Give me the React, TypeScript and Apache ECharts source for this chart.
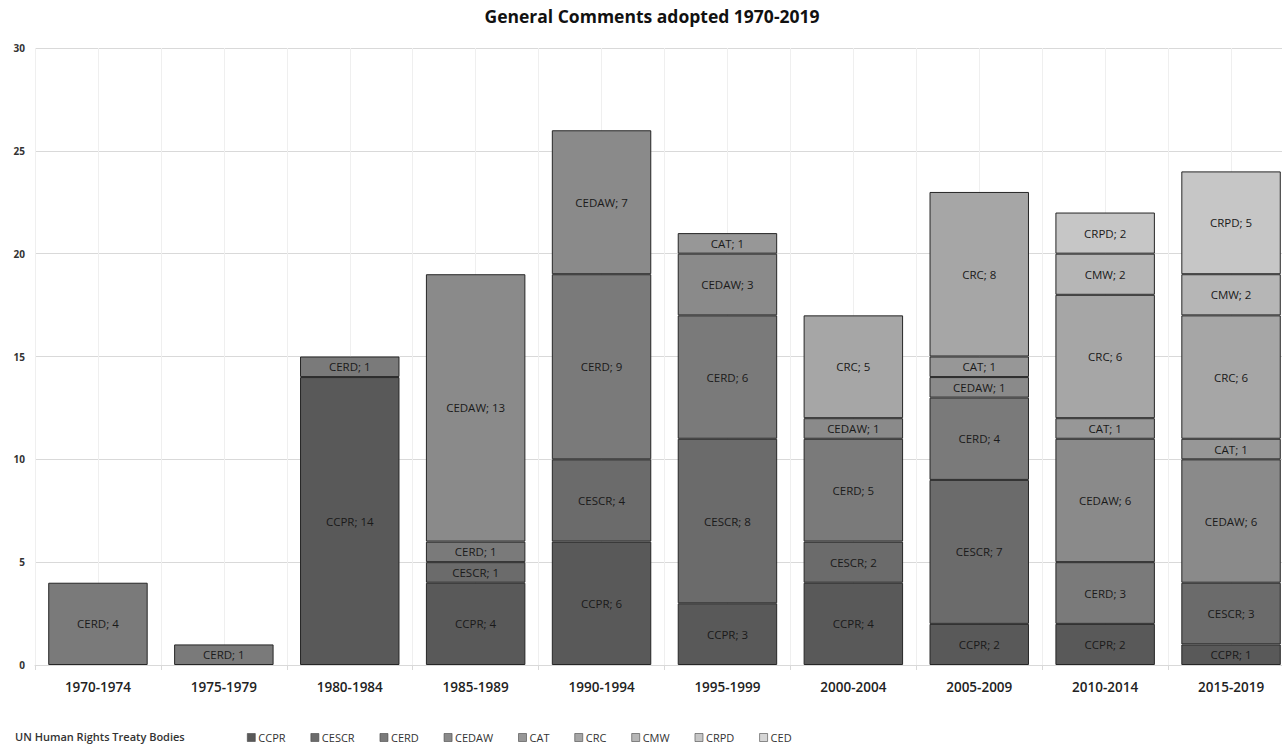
import React, { useEffect, useRef } from "react";
import * as echarts from "echarts";

const categories = ["1970-1974", "1975-1979", "1980-1984", "1985-1989", "1990-1994", "1995-1999", "2000-2004", "2005-2009", "2010-2014", "2015-2019"];
const seriesNames = ["CCPR", "CESCR", "CERD", "CEDAW", "CAT", "CRC", "CMW", "CRPD", "CED"];
const CCPR = [null, null, 14, 4, 6, 3, 4, 2, 2, 1];
const CESCR = [null, null, null, 1, 4, 8, 2, 7, null, 3];
const CERD = [4, 1, 1, 1, 9, 6, 5, 4, 3, null];
const CEDAW = [null, null, null, 13, 7, 3, 1, 1, 6, 6];
const CAT = [null, null, null, null, null, 1, null, 1, 1, 1];
const CRC = [null, null, null, null, null, null, 5, 8, 6, 6];
const CMW = [null, null, null, null, null, null, null, null, 2, 2];
const CRPD = [null, null, null, null, null, null, null, null, 2, 5];
const CED = [null, null, null, null, null, null, null, null, null, null];
const yTicks = { min: 0, max: 30, interval: 5 };
const colors = ["#595959", "#6b6b6b", "#7a7a7a", "#8a8a8a", "#979797", "#a6a6a6", "#b6b6b6", "#c6c6c6", "#d6d6d6"];
const dataList = [CCPR, CESCR, CERD, CEDAW, CAT, CRC, CMW, CRPD, CED];

const FONT = "'Open Sans', 'Noto Sans', sans-serif";

export default function App() {
  const ref = useRef<HTMLDivElement>(null);
  useEffect(() => {
    if (!ref.current) return;
    const chart = echarts.init(ref.current, null, { renderer: "svg" });
    chart.setOption({
      animation: false,
      backgroundColor: "#ffffff",
      color: colors,
      textStyle: { fontFamily: FONT },
      title: {
        text: "General Comments adopted 1970-2019",
        left: 652,
        top: 7,
        textAlign: "center",
        padding: 0,
        textStyle: { fontSize: 17.5, fontWeight: "bold", color: "#111", fontFamily: FONT },
      },
      graphic: [
        {
          type: "text",
          left: 15,
          top: 731,
          style: { text: "UN Human Rights Treaty Bodies", fontSize: 11, fontWeight: 600, fill: "#333", fontFamily: FONT },
        },
      ],
      legend: {
        left: 247,
        top: 732,
        padding: 0,
        itemWidth: 8,
        itemHeight: 8,
        itemGap: 25,
        icon: "rect",
        data: seriesNames,
        textStyle: { fontSize: 11, lineHeight: 11, color: "#333", fontFamily: FONT, padding: [0, 0, 0, -2] },
        itemStyle: { borderColor: "#444", borderWidth: 0.6 },
      },
      grid: { left: 35, right: 0, top: 48, bottom: 80 },
      xAxis: [
        {
          type: "category",
          data: categories,
          axisLine: { lineStyle: { color: "#d9d9d9" } },
          axisTick: { show: true, length: 5, lineStyle: { color: "#d9d9d9" } },
          axisLabel: { fontSize: 13.5, fontWeight: 600, color: "#222", margin: 15, fontFamily: FONT },
          splitLine: { show: false },
        },
        {
          type: "value",
          min: 0,
          max: 20,
          interval: 1,
          position: "bottom",
          axisLine: { show: false },
          axisTick: { show: false },
          axisLabel: { show: false },
          splitLine: { show: true, lineStyle: { color: "#efefef", width: 1 } },
        },
      ],
      yAxis: {
        type: "value",
        min: yTicks.min,
        max: yTicks.max,
        interval: yTicks.interval,
        axisLine: { show: false },
        axisTick: { show: false },
        axisLabel: { fontSize: 10, fontWeight: "bold", color: "#333", margin: 10, fontFamily: FONT },
        splitLine: { lineStyle: { color: "#d9d9d9" } },
      },
      series: seriesNames.map((name, i) => ({
        name,
        type: "bar",
        stack: "total",
        xAxisIndex: 0,
        barCategoryGap: "21%",
        data: dataList[i],
        itemStyle: { color: colors[i], borderColor: "#262626", borderWidth: 1 },
        label: {
          show: true,
          position: "inside",
          formatter: (p: any) => (p.value == null ? "" : `${p.seriesName}; ${p.value}`),
          fontSize: 11.5,
          color: "#1a1a1a",
          fontFamily: FONT,
        },
      })),
    });
    return () => chart.dispose();
  }, []);
  return (
    <div style={{ position: "fixed", left: 0, top: 0, width: 1282, height: 745, overflow: "hidden" }}>
      <div ref={ref} style={{ width: 1294, height: 745 }} />
    </div>
  );
}
